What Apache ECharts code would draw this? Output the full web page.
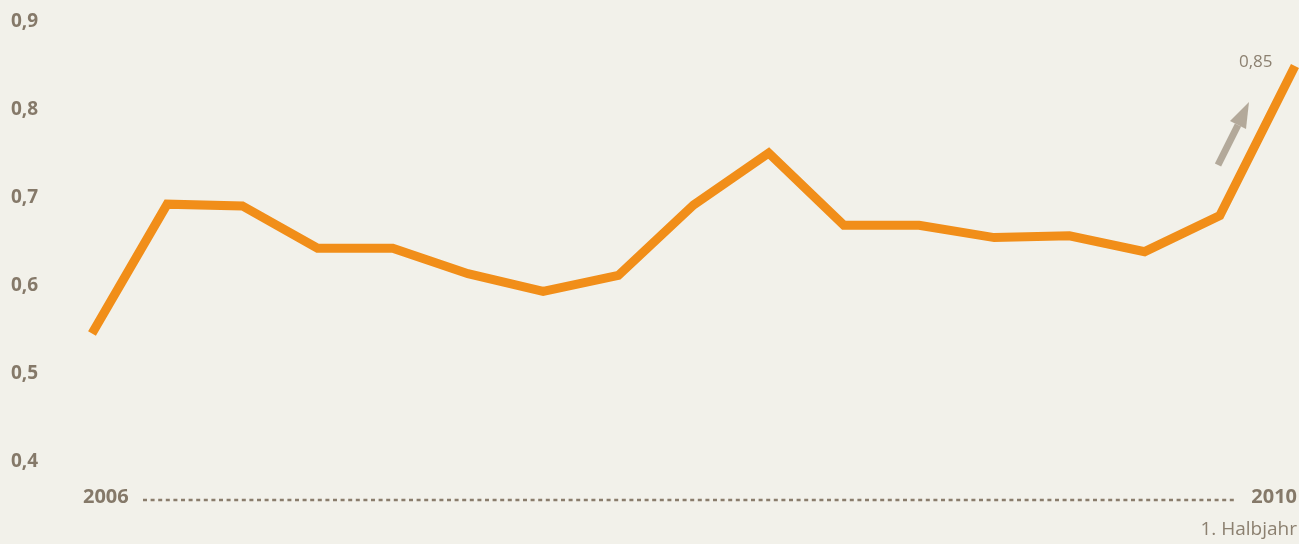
<!DOCTYPE html>
<html><head><meta charset="utf-8">
<script src="https://cdn.jsdelivr.net/npm/echarts@6/dist/echarts.min.js"></script>
<style>html,body{margin:0;padding:0;background:#f2f1ea;}#c{width:1299px;height:544px;}</style>
</head><body><div id="c"></div>
<script>
const categories = ['2006-1','2006-2','2006-3','2006-4','2007-1','2007-2','2007-3','2007-4','2008-1','2008-2','2008-3','2008-4','2009-1','2009-2','2009-3','2009-4','2010-1'];
const values = [0.546,0.693,0.691,0.643,0.643,0.614,0.594,0.612,0.692,0.751,0.669,0.669,0.655,0.657,0.639,0.680,0.850];
const yTicks = [0.4,0.5,0.6,0.7,0.8,0.9];
const yearLabels = ['2006','2010'];
const subLabel = '1. Halbjahr';
const lastLabel = '0,85';

const textCol = '#857969';
const lastIdx = values.length - 1;
const chart = echarts.init(document.getElementById('c'));
chart.setOption({
  backgroundColor: '#f2f1ea',
  animation: false,
  grid: {left: 92, right: 4, top: 22, bottom: 82},
  xAxis: {type: 'category', data: categories, boundaryGap: false, show: false},
  yAxis: {type: 'value', min: yTicks[0], max: yTicks[yTicks.length-1], interval: 0.1,
    splitLine: {show: false}, axisLine: {show: false}, axisTick: {show: false},
    axisLabel: {margin: 81, align: 'left', color: textCol, fontFamily: 'Open Sans', fontWeight: 'bold', fontSize: 19,
      padding: [5, 0, 0, 0],
      formatter: v => v.toFixed(1).replace('.', ',')}},
  series: [{
    type: 'line', data: values,
    symbol: 'none', lineStyle: {color: '#f18e19', width: 9, join: 'miter', cap: 'butt'},
    markPoint: {
      symbol: 'circle', symbolSize: 1, itemStyle: {color: 'rgba(0,0,0,0)'},
      data: [{coord: [lastIdx, values[lastIdx]], value: values[lastIdx]}],
      label: {show: true, formatter: lastLabel, position: 'left', offset: [-17, -4], color: '#8c8070', fontFamily: 'Open Sans', fontSize: 17}
    }
  }],
  graphic: [
    {type: 'line', shape: {x1: 143, y1: 500, x2: 1234, y2: 500}, style: {stroke: '#8a7d6c', lineWidth: 2.5, lineDash: [4, 3.6]}},
    {type: 'text', left: 83, top: 487, style: {text: yearLabels[0], fill: textCol, font: 'bold 20px "Open Sans"'}},
    {type: 'text', right: 2, top: 487, style: {text: yearLabels[1], fill: textCol, font: 'bold 20px "Open Sans"'}},
    {type: 'text', right: 2, top: 520, style: {text: subLabel, fill: '#8c8070', font: '19px "Open Sans"'}},
    {type: 'line', shape: {x1: 1218, y1: 165, x2: 1238, y2: 125}, style: {stroke: '#b3a99a', lineWidth: 7}},
    {type: 'polygon', shape: {points: [[1249, 102], [1230, 121], [1246, 129]]}, style: {fill: '#b3a99a'}}
  ]
});
</script></body></html>
